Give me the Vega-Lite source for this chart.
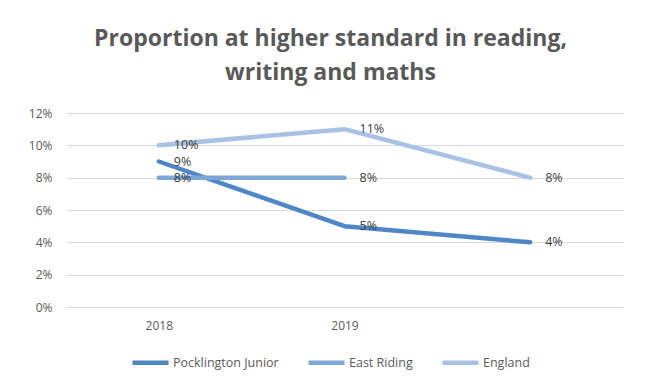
{
  "$schema": "https://vega.github.io/schema/vega-lite/v6.json",
  "width": 557,
  "height": 194,
  "autosize": "none",
  "padding": {"left": 66, "top": 113, "right": 23, "bottom": 73},
  "background": "white",
  "title": {
    "text": ["Proportion at higher standard in reading,", "writing and maths"],
    "font": "Open Sans",
    "fontSize": 23,
    "fontWeight": "bold",
    "color": "#595959",
    "anchor": "middle",
    "frame": "group",
    "dx": -14,
    "offset": 22,
    "lineHeight": 34
  },
  "config": {
    "view": {"stroke": null},
    "font": "Open Sans",
    "axis": {
      "labelFont": "Open Sans",
      "labelFontSize": 12,
      "labelColor": "#595959",
      "domain": false,
      "ticks": false,
      "title": null
    },
    "legend": {
      "labelFont": "Open Sans",
      "labelFontSize": 12.5,
      "labelColor": "#595959"
    }
  },
  "data": {
    "values": [
      {"Year": "2018", "Series": "Pocklington Junior", "Value": 0.09},
      {"Year": "2019", "Series": "Pocklington Junior", "Value": 0.05},
      {"Year": "", "Series": "Pocklington Junior", "Value": 0.04},
      {"Year": "2018", "Series": "East Riding", "Value": 0.08},
      {"Year": "2019", "Series": "East Riding", "Value": 0.08},
      {"Year": "2018", "Series": "England", "Value": 0.10},
      {"Year": "2019", "Series": "England", "Value": 0.11},
      {"Year": "", "Series": "England", "Value": 0.08}
    ]
  },
  "encoding": {
    "x": {
      "field": "Year",
      "type": "ordinal",
      "sort": ["2018", "2019", ""],
      "scale": {"type": "point", "padding": 0.5},
      "axis": {"labelAngle": 0, "labelPadding": 13, "grid": false}
    },
    "y": {
      "field": "Value",
      "type": "quantitative",
      "scale": {"domain": [0, 0.12], "nice": false},
      "axis": {
        "format": ".0%",
        "values": [0, 0.02, 0.04, 0.06, 0.08, 0.1, 0.12],
        "grid": true,
        "gridColor": "#D9D9D9",
        "gridWidth": 1,
        "labelPadding": 14
      }
    }
  },
  "layer": [
    {
      "mark": {"type": "line", "strokeWidth": 4.5, "strokeCap": "round", "strokeJoin": "round"},
      "encoding": {
        "color": {
          "field": "Series",
          "type": "nominal",
          "sort": ["Pocklington Junior", "East Riding", "England"],
          "scale": {
            "domain": ["Pocklington Junior", "East Riding", "England"],
            "range": ["#4F86C6", "#7DA7D9", "#A8C2E6"]
          },
          "legend": {
            "title": null,
            "orient": "none",
            "direction": "horizontal",
            "legendX": 64,
            "legendY": 229,
            "symbolType": "stroke",
            "symbolSize": 1296,
            "symbolStrokeWidth": 4.5,
            "labelOffset": 2,
            "columnPadding": 20
          }
        }
      }
    },
    {
      "mark": {"type": "text", "align": "left", "baseline": "middle", "dx": 15, "fontSize": 12.5, "color": "#404040", "font": "Open Sans"},
      "encoding": {
        "text": {"field": "Value", "type": "quantitative", "format": ".0%"}
      }
    }
  ]
}
